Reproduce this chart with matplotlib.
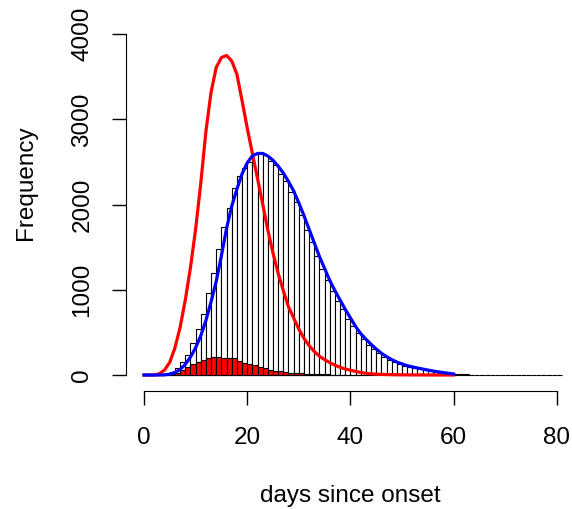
import numpy as np
import matplotlib
matplotlib.use('Agg')
import matplotlib.pyplot as plt

plt.rcParams['font.family'] = ['Liberation Sans', 'DejaVu Sans']

# histogram of days since onset (all cases), bins of width 1 starting at day 0
hist_all = [0, 0, 0, 2, 10, 35, 80, 150, 230, 380,
            540, 720, 960, 1200, 1480, 1740, 1960, 2200, 2330, 2430,
            2500, 2590, 2600, 2580, 2510, 2460, 2360, 2280, 2150, 2030,
            1880, 1700, 1560, 1400, 1240, 1120, 990, 870, 780, 660,
            580, 490, 420, 355, 300, 260, 215, 180, 155, 130,
            110, 92, 80, 70, 58, 47, 38, 28, 20, 15,
            11, 8, 6, 5, 4, 3, 2, 2, 1, 1,
            1, 1, 1, 0, 0, 1, 0, 0, 0, 1, 0]
# histogram of the red subset
hist_red = [0, 0, 0, 0, 3, 10, 28, 55, 90, 125,
            150, 175, 195, 210, 210, 200, 198, 195, 165, 140,
            130, 120, 95, 80, 62, 50, 42, 40, 25, 20,
            18, 14, 12, 10, 8, 6, 5, 4, 3, 2, 2, 1, 1]

# fitted curves, evaluated at day 0..60
curve_days = np.arange(61)
red_curve = [0, 0, 0, 15, 60, 150, 320, 560, 880, 1260,
             1710, 2250, 2860, 3320, 3610, 3725, 3750, 3685, 3530, 3220,
             2900, 2600, 2305, 2005, 1700, 1430, 1193, 990, 800, 670,
             540, 430, 345, 275, 220, 180, 145, 115, 90, 70,
             57, 42, 30, 20, 14, 10, 7, 5, 4, 3,
             2, 2, 1, 1, 1, 0, 0, 0, 0, 0, 0]
blue_curve = [0, 0, 0, 0, 2, 10, 30, 65, 125, 210,
              320, 460, 640, 860, 1100, 1400, 1720, 1980, 2180, 2360,
              2490, 2570, 2600, 2600, 2570, 2520, 2450, 2370, 2270, 2160,
              2020, 1870, 1710, 1550, 1390, 1250, 1110, 990, 880, 770,
              670, 570, 485, 420, 360, 305, 255, 215, 180, 152,
              130, 110, 95, 82, 70, 58, 47, 37, 28, 20, 12]

fig = plt.figure(figsize=(5.72, 5.09), dpi=100)
ax = fig.add_axes([0.2229, 0.2318, 0.7794, 0.819])

ax.bar(np.arange(len(hist_all)), hist_all, width=1, align='edge',
       color='white', edgecolor='black', linewidth=0.8)
ax.bar(np.arange(len(hist_red)), hist_red, width=1, align='edge',
       color='red', edgecolor='black', linewidth=0.8)
ax.plot(curve_days, red_curve, color='red', lw=2.3)
ax.plot(curve_days, blue_curve, color='blue', lw=2.3)

ax.set_xlim(-3.2, 83.2)
ax.set_ylim(-188, 4704)
for s in ['top', 'right']:
    ax.spines[s].set_visible(False)
ax.spines['left'].set_bounds(0, 4000)
ax.spines['bottom'].set_bounds(0, 80)
ax.spines['left'].set_position(('outward', 1))

ax.set_xticks([0, 20, 40, 60, 80])
ax.set_yticks([0, 1000, 2000, 3000, 4000])
ax.set_yticklabels(['0', '1000', '2000', '3000', '4000'], rotation=90, va='center')
ax.tick_params(length=10, width=1, labelsize=17.5)
ax.tick_params(axis='x', pad=16)
ax.tick_params(axis='y', pad=13.5)

ax.set_xlabel('days since onset', fontsize=17.5, labelpad=26)
ax.set_ylabel('Frequency', fontsize=17.5, labelpad=25)

fig.savefig('out.png', dpi=100)
